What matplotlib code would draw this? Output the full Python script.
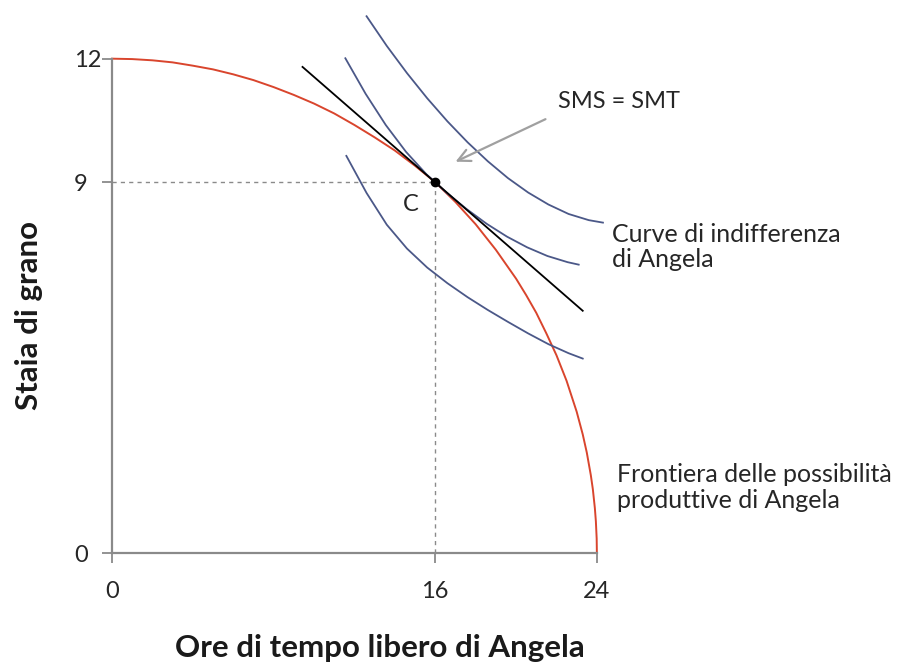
import numpy as np
import matplotlib
matplotlib.use("Agg")
import matplotlib.pyplot as plt

plt.rcParams['font.family'] = ['Lato', 'DejaVu Sans']

# frontiera delle possibilità produttive (ore libere, staia di grano)
ppf_x = [0, 1, 2, 3, 4, 5, 6, 7, 8, 9, 10, 11, 12, 13, 14, 15, 16, 17, 18, 19, 20,
         20.5, 21, 21.5, 22, 22.5, 23, 23.3, 23.5, 23.7, 23.8, 23.9, 23.95, 23.99, 24]
ppf_y = [12.0, 11.99, 11.96, 11.91, 11.83, 11.74, 11.62, 11.48, 11.31, 11.12, 10.91, 10.67,
         10.39, 10.09, 9.77, 9.40, 9.0, 8.52, 7.98, 7.36, 6.66,
         6.26, 5.83, 5.33, 4.80, 4.18, 3.43, 2.88, 2.44, 1.89, 1.55, 1.09, 0.77, 0.35, 0]

# curve di indifferenza di Angela
ic_top_x = [12.6, 13.6, 14.6, 15.6, 16.6, 17.6, 18.6, 19.6, 20.6, 21.6, 22.6, 23.6, 24.3]
ic_top_y = [13.03, 12.31, 11.65, 11.04, 10.48, 9.97, 9.51, 9.10, 8.75, 8.46, 8.23, 8.08, 8.02]
ic_mid_x = [11.55, 12.55, 13.55, 14.55, 15.55, 16.0, 16.55, 17.55, 18.55, 19.55, 20.55, 21.55, 22.55, 23.1]
ic_mid_y = [12.01, 11.15, 10.39, 9.74, 9.20, 9.0, 8.75, 8.35, 7.99, 7.68, 7.42, 7.21, 7.06, 7.00]
ic_bot_x = [11.6, 12.6, 13.6, 14.6, 15.6, 16.6, 17.6, 18.6, 19.6, 20.6, 21.6, 22.6, 23.3]
ic_bot_y = [9.64, 8.74, 7.97, 7.39, 6.93, 6.55, 6.21, 5.90, 5.61, 5.33, 5.07, 4.85, 4.72]

# retta tangente (SMS = SMT)
tan_x = [9.43, 23.30]
tan_y = [11.80, 5.88]

# punto C
c_x, c_y = 16, 9

xticks = [0, 16, 24]
yticks = [0, 9, 12]

red = '#d9452d'
blue = '#4b5888'
grey = '#8a8a8a'
txt = '#262626'

fig = plt.figure(figsize=(9.03, 6.67), dpi=100)
ax = fig.add_axes([112/903, 114/667, 497/903, 552/667])
ax.set_xlim(0, 24.6)
ax.set_ylim(0, 13.4)

ax.plot([0, c_x], [c_y, c_y], color=grey, lw=1, ls=(0, (3, 3)))
ax.plot([c_x, c_x], [0, c_y], color=grey, lw=1, ls=(0, (3, 3)))

ax.plot(ppf_x, ppf_y, color=red, lw=1.4, clip_on=False)
for xs, ys in [(ic_top_x, ic_top_y), (ic_mid_x, ic_mid_y), (ic_bot_x, ic_bot_y)]:
    ax.plot(xs, ys, color=blue, lw=1.3, clip_on=False)
ax.plot(tan_x, tan_y, color='black', lw=1.3)
ax.plot(c_x, c_y, 'o', color='black', ms=6, zorder=5)

ax.text(14.8, 8.45, 'C', fontsize=17, ha='center', va='center', color=txt)
ax.text(22.08, 10.95, 'SMS = SMT', fontsize=17, ha='left', va='center', color=txt)
ax.annotate('', xy=(16.88, 9.47), xytext=(21.58, 10.56),
            arrowprops=dict(arrowstyle='->', color='#a0a0a0', lw=1.6, mutation_scale=22))
ax.text(24.75, 7.43, 'Curve di indifferenza\ndi Angela', fontsize=18, ha='left', va='center',
        color=txt, linespacing=1.15)
ax.text(25.0, 1.58, 'Frontiera delle possibilità\nproduttive di Angela', fontsize=18, ha='left',
        va='center', color=txt, linespacing=1.15)

for side in ['top', 'right']:
    ax.spines[side].set_visible(False)
for side in ['left', 'bottom']:
    ax.spines[side].set_color(grey)
    ax.spines[side].set_linewidth(1.6)
ax.spines['left'].set_bounds(0, 12)
ax.spines['bottom'].set_bounds(0, 24)

ax.set_xticks(xticks)
ax.set_yticks(yticks)
ax.tick_params(axis='both', colors=grey, length=7.5, width=1.3, labelsize=17, labelcolor=txt)
ax.tick_params(axis='x', pad=13)
ax.tick_params(axis='y', pad=20)
for lab in ax.get_yticklabels():
    lab.set_horizontalalignment('left')

fig.text(380/903, 10/667, 'Ore di tempo libero di Angela', fontsize=22.5, fontweight='bold',
         ha='center', va='baseline', color='#1a1a1a')
fig.text(29/903, 352/667, 'Staia di grano', fontsize=22.5, fontweight='bold', rotation=90,
         ha='center', va='center', color='#1a1a1a')

fig.savefig('out.png', dpi=100)
